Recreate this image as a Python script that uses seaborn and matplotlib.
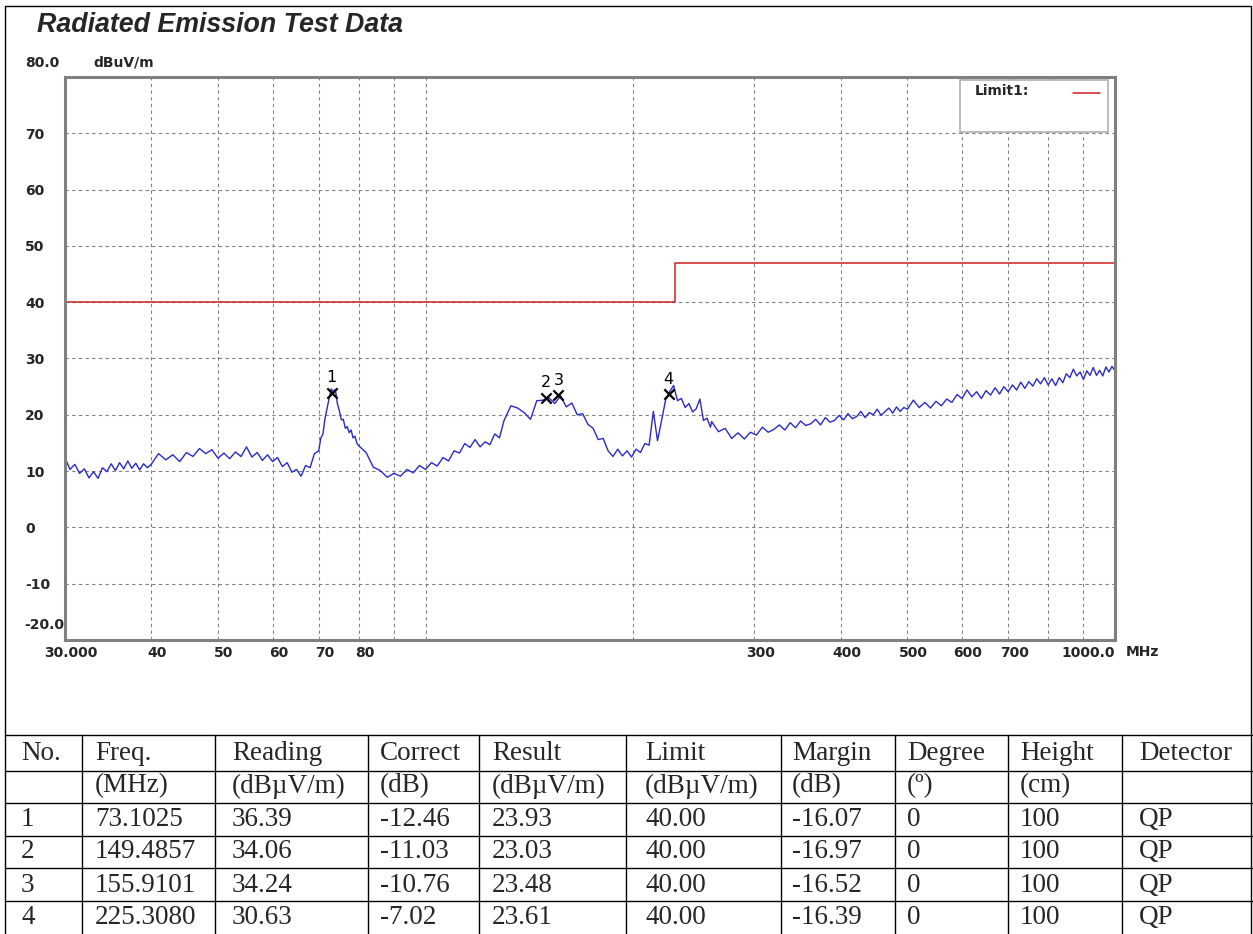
import pandas as pd
import seaborn as sns
from matplotlib import pyplot as plt
from matplotlib import transforms
from matplotlib.patches import Rectangle
from matplotlib.ticker import NullLocator

# scan trace, frequency in MHz, level in dBuV/m
freq_a = [30, 30.5, 31, 31.5, 32, 32.5, 33, 33.5, 34, 34.5, 35, 35.5, 36, 36.5, 37, 37.5, 38, 38.5, 39, 39.5]
level_a = [12.4, 10.3, 11.2, 9.6, 10.4, 8.8, 9.9, 8.7, 10.6, 9.9, 11.3, 10.1, 11.5, 10.4, 11.8, 10.5, 11.4, 10.2, 11.3, 10.6]

freq_b = [40, 41, 42, 43, 44, 45, 46, 47, 48, 49, 50, 51, 52, 53, 54, 55, 56, 57, 58, 59,
          60, 61, 62, 63, 64, 65, 66, 67, 68, 69]
level_b = [11.2, 13.1, 12.0, 12.9, 11.7, 13.3, 12.6, 14.0, 13.1, 13.8, 12.3, 13.2, 12.2, 13.4, 12.6, 14.3, 12.5, 13.3, 11.9, 12.9,
           11.7, 12.4, 10.8, 11.5, 9.8, 10.3, 9.1, 11.0, 10.6, 13.1]

freq_c = [70, 70.5, 71, 71.5, 72, 72.5, 73, 73.5, 74, 74.5, 75, 75.5, 76, 76.5, 77, 77.5, 78, 78.5, 79, 79.5]
level_c = [13.6, 15.9, 16.6, 19.4, 21.2, 23.0, 24.6, 24.1, 24.5, 22.0, 20.7, 19.1, 19.2, 17.6, 17.9, 16.8, 17.3, 15.9, 16.2, 15.0]

freq_d = [80, 82, 84, 86, 88, 90, 92, 94, 96, 98, 100, 102, 104, 106, 108, 110, 112, 114, 116, 118,
          120, 122, 124, 126, 128]
level_d = [14.5, 13.3, 10.7, 10.1, 8.9, 9.6, 9.1, 10.3, 9.7, 11.0, 10.3, 11.5, 10.9, 12.4, 11.8, 13.6, 13.2, 14.9, 14.2, 15.6,
           14.3, 15.2, 14.7, 16.6, 15.9]

freq_e = [130, 133, 136, 139, 142, 145, 148, 151, 154, 157, 160, 163, 166, 169, 172, 175, 178, 181, 184, 187,
          190, 193, 196, 199, 202, 205, 208, 211, 214, 217, 220, 223, 226, 229, 232, 235, 238, 241, 244, 247,
          250, 253, 256, 259]
level_e = [19.0, 21.6, 21.2, 20.4, 19.2, 22.5, 22.6, 23.0, 22.0, 23.4, 21.4, 22.1, 20.0, 20.2, 18.3, 17.6, 15.6, 15.8, 13.6, 12.6,
           13.9, 12.7, 13.6, 12.5, 13.9, 13.3, 14.9, 14.6, 20.6, 15.4, 19.0, 22.7, 24.1, 25.2, 22.5, 22.9, 21.3, 22.0, 20.5, 21.1,
           22.8, 19.0, 19.4, 17.8]

freq_f = [260, 266, 272, 278, 284, 290, 296, 302, 308, 314, 320, 326, 332, 338, 344, 350, 356, 362, 368, 374,
          380, 386, 392, 398, 404, 410, 416, 422, 428, 434, 440, 446, 452, 458, 464, 470, 476, 482, 488, 494]
level_f = [18.8, 17.0, 17.6, 15.8, 16.8, 15.7, 16.9, 16.4, 17.8, 16.9, 17.4, 18.2, 17.3, 18.6, 17.7, 18.9, 18.1, 18.4, 19.2, 18.2,
           19.5, 18.7, 19.0, 19.9, 19.1, 20.2, 19.3, 19.7, 20.6, 19.5, 20.4, 20.0, 21.0, 19.9, 20.6, 21.2, 20.3, 21.4, 20.6, 21.3]

freq_g = [500, 510, 520, 530, 540, 550, 560, 570, 580, 590, 600, 610, 620, 630, 640, 650, 660, 670, 680, 690,
          700, 710, 720, 730, 740, 750, 760, 770, 780, 790, 800, 810, 820, 830, 840, 850, 860, 870, 880, 890,
          900, 910, 920, 930, 940, 950, 960, 970, 980, 990, 1000]
level_g = [21.0, 22.6, 21.3, 22.2, 21.2, 22.4, 21.6, 22.8, 22.2, 23.6, 22.9, 24.4, 23.2, 24.1, 22.9, 24.3, 23.5, 24.8, 23.7, 25.0,
           24.1, 25.3, 24.4, 25.8, 24.7, 25.9, 25.1, 26.4, 25.5, 26.6, 25.3, 26.4, 25.2, 26.6, 25.7, 27.3, 26.6, 28.1, 26.9, 27.6,
           26.3, 27.8, 27.0, 28.4, 27.0, 27.9, 26.9, 28.5, 27.6, 28.6, 27.8]

# limit line (class B, 3 m)
limit_freq = [30, 230, 230, 1000]
limit_level = [40, 40, 47, 47]

# peak table
peak_no = ["1", "2", "3", "4"]
peak_freq = [73.1025, 149.4857, 155.9101, 225.3080]
reading = [36.39, 34.06, 34.24, 30.63]
correct = [-12.46, -11.03, -10.76, -7.02]
result = [23.93, 23.03, 23.48, 23.61]
limit = [40.00, 40.00, 40.00, 40.00]
margin = [-16.07, -16.97, -16.52, -16.39]
degree = [0, 0, 0, 0]
height = [100, 100, 100, 100]
detector = ["QP", "QP", "QP", "QP"]

header_top = ["No.", "Freq.", "Reading", "Correct", "Result", "Limit", "Margin", "Degree", "Height", "Detector"]
header_units = ["", "(MHz)", "(dBµV/m)", "(dB)", "(dBµV/m)", "(dBµV/m)", "(dB)", "(º)", "(cm)", ""]

x_ticks = [30, 40, 50, 60, 70, 80, 90, 100, 200, 300, 400, 500, 600, 700, 800, 900, 1000]
x_tick_labels = ["30.000", "40", "50", "60", "70", "80", "", "", "", "300", "400", "500", "600", "700", "", "", "1000.0"]
y_ticks = [-10, 0, 10, 20, 30, 40, 50, 60, 70]

sns.set_style("white")
plt.rcParams['font.family'] = ['DejaVu Sans']

fig = plt.figure(figsize=(12.53, 9.34), dpi=100)
W, H = 1253, 934
ax = fig.add_axes([65 / W, 1 - 640 / H, 1050 / W, 563 / H])

trace_df = pd.DataFrame({
    "freq": freq_a + freq_b + freq_c + freq_d + freq_e + freq_f + freq_g,
    "level": level_a + level_b + level_c + level_d + level_e + level_f + level_g,
})
sns.lineplot(data=trace_df, x="freq", y="level", ax=ax, color="#2a2ac8", lw=1.0, estimator=None)
sns.lineplot(x=limit_freq, y=limit_level, ax=ax, color="#d02020", lw=1.1, estimator=None, sort=False)
sns.scatterplot(x=peak_freq, y=result, ax=ax, marker="x", color="black", s=55, linewidth=1.6, zorder=5)
for n, f, r in zip(peak_no, peak_freq, result):
    ax.text(f, r + 1.3, n, ha="center", va="bottom", fontsize=11.5, color="black")

ax.set_xscale("log")
ax.set_xlim(30, 1000)
ax.set_ylim(-20, 80)
ax.xaxis.set_minor_locator(NullLocator())
ax.set_xticks(x_ticks)
ax.set_xticklabels(x_tick_labels)
ax.set_yticks(y_ticks)
ax.set_yticklabels([str(v) for v in y_ticks])
ax.set_xlabel("")
ax.set_ylabel("")
ax.grid(True, color="#808080", ls=(0, (3, 3)), lw=0.8)
ax.tick_params(length=0, labelsize=10)
ax.tick_params(axis="y", pad=28.8)
ax.tick_params(axis="x", pad=4)
for lbl in ax.get_yticklabels():
    lbl.set_ha("left")
    lbl.set_fontweight("bold")
shift = transforms.ScaledTranslation(6 / 100, 0, fig.dpi_scale_trans)
xlabels = ax.get_xticklabels()
for lbl in xlabels[:-1]:
    lbl.set_fontweight("bold")
    lbl.set_transform(lbl.get_transform() + shift)
# last label sits just inside the right edge, left of "MHz"
xlabels[-1].set_fontweight("bold")
xlabels[-1].set_ha("right")
for sp in ax.spines.values():
    sp.set_color("#808080")
    sp.set_linewidth(2.2)

# overlay in pixel units for the frame, labels and the table
over = fig.add_axes([0, 0, 1, 1])
over.set_xlim(0, W)
over.set_ylim(H, 0)
over.axis("off")
over.patch.set_alpha(0)

over.add_patch(Rectangle((5, 6), 1246, 960, fill=False, ec="black", lw=1))
over.text(37, 25, "Radiated Emission Test Data", fontsize=19.3, fontweight="bold", style="italic",
          family="Liberation Sans", va="center", ha="left")
over.text(25, 63, "80.0", fontsize=10, fontweight="bold", va="center", ha="left")
over.text(93, 63, "dBuV/m", fontsize=10, fontweight="bold", va="center", ha="left")
over.text(24, 625, "-20.0", fontsize=10, fontweight="bold", va="center", ha="left")
over.text(1126, 652, "MHz", fontsize=10, fontweight="bold", va="center", ha="left")

# legend box
over.add_patch(Rectangle((960, 80), 148, 52, fc="white", ec="#b0b0b0", lw=1.2, zorder=3))
over.text(975, 91, "Limit1:", fontsize=10, fontweight="bold", va="center", ha="left", zorder=4)
over.plot([1073, 1100], [93, 93], color="#d02020", lw=1.1, zorder=4)

# table
row_lines = [735, 771, 803, 836, 868, 901]
col_lines = [82, 215, 368, 479, 626, 781, 895, 1008, 1122]
text_x = [21, 95, 232, 380, 492, 645, 792, 907, 1020, 1139]
row_y = [753, 786, 820, 852, 885, 918]
for y in row_lines:
    over.plot([5, W], [y, y], color="black", lw=1)
for x in col_lines:
    over.plot([x, x], [735, H], color="black", lw=1)

rows = [header_top, header_units]
for i in range(len(peak_no)):
    rows.append([peak_no[i], f"{peak_freq[i]:.4f}", f"{reading[i]:.2f}", f"{correct[i]:.2f}",
                 f"{result[i]:.2f}", f"{limit[i]:.2f}", f"{margin[i]:.2f}", str(degree[i]),
                 str(height[i]), detector[i]])
for y, row in zip(row_y, rows):
    for x, cell in zip(text_x, row):
        over.text(x, y, cell, fontsize=19.5, family="Liberation Serif", va="center", ha="left")

fig.savefig("out.png", dpi=100)
